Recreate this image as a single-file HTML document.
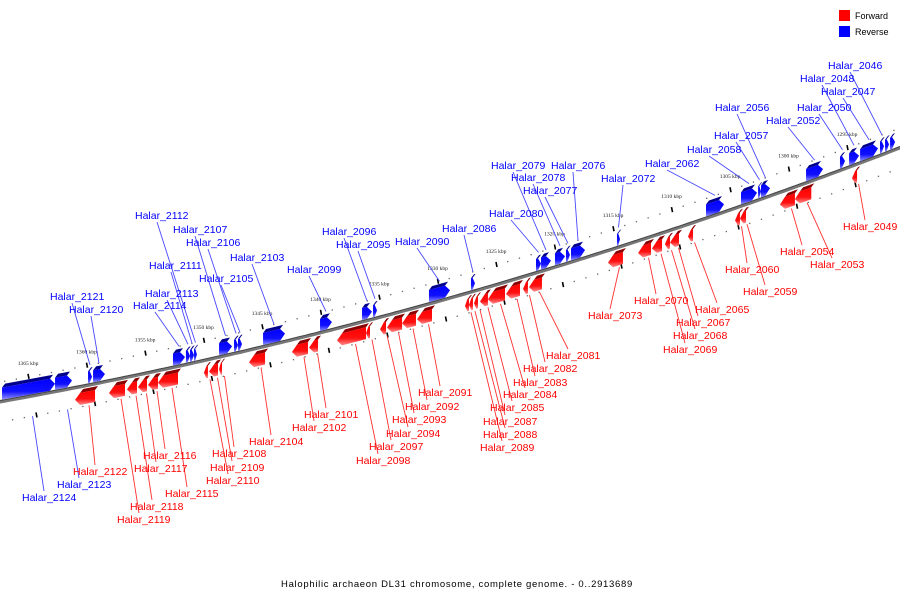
<!DOCTYPE html>
<html><head><meta charset="utf-8"><style>
html,body{margin:0;padding:0;background:#fff;}
svg{display:block;font-family:"Liberation Sans",sans-serif;}
</style></head><body>
<svg id="chart" width="900" height="600" viewBox="0 0 900 600" xmlns="http://www.w3.org/2000/svg">
<defs>
<linearGradient id="gb" x1="0" y1="0" x2="0" y2="1"><stop offset="0" stop-color="#0000ff"/><stop offset="0.6" stop-color="#1010ff"/><stop offset="1" stop-color="#9090ff"/></linearGradient>
<linearGradient id="gr" x1="0" y1="0" x2="0" y2="1"><stop offset="0" stop-color="#ff0000"/><stop offset="0.6" stop-color="#ff1010"/><stop offset="1" stop-color="#ff9090"/></linearGradient>
</defs>
<g id="ticks"></g>
<path id="axis" fill="none" stroke="#777" stroke-width="3"/>
<path id="axis2" fill="none" stroke="#444" stroke-width="1"/>
<g id="leaders"></g>
<g id="genes"></g>
<g id="labels"></g>
<g>
<rect x="839" y="10" width="11" height="11" fill="#ff0000"/>
<text x="855" y="19" font-size="9">Forward</text>
<rect x="839" y="26" width="11" height="11" fill="#0000ff"/>
<text x="855" y="35" font-size="9">Reverse</text>
</g>
<text x="457" y="587" font-size="9.5" letter-spacing="0.7" text-anchor="middle">Halophilic archaeon DL31 chromosome, complete genome. - 0..2913689</text>
</svg>
<script>
// ---- data ----
const revNames = ["Halar_2124","Halar_2123","Halar_2121","Halar_2120","Halar_2114","Halar_2113","Halar_2111","Halar_2112","Halar_2107","Halar_2106","Halar_2105","Halar_2103","Halar_2099","Halar_2096","Halar_2095","Halar_2090","Halar_2086","Halar_2080","Halar_2079","Halar_2078","Halar_2077","Halar_2076","Halar_2072","Halar_2062","Halar_2058","Halar_2057","Halar_2056","Halar_2052","Halar_2050","Halar_2048","Halar_2047","Halar_2046","",""];
const revStart = [1367.22,1362.69,1359.87,1359.44,1352.61,1351.50,1351.15,1350.81,1348.67,1347.39,1347.05,1344.91,1340.04,1336.45,1335.51,1330.73,1327.14,1321.58,1321.15,1319.96,1319.02,1318.59,1314.66,1307.05,1304.06,1302.60,1302.35,1298.50,1295.60,1294.82,1293.88,1292.18,1291.75,1291.32];
const revEnd = [1362.69,1361.24,1359.53,1358.42,1351.58,1351.15,1350.81,1350.56,1347.56,1347.05,1346.71,1343.03,1339.02,1335.60,1335.17,1328.93,1326.80,1321.15,1320.30,1319.10,1318.68,1317.39,1314.40,1305.51,1302.69,1302.35,1301.58,1297.05,1295.17,1293.97,1292.35,1291.84,1291.41,1290.89];
const fwdNames = ["Halar_2122","Halar_2119","Halar_2118","Halar_2117","Halar_2116","Halar_2115","Halar_2110","Halar_2109","Halar_2108","Halar_2104","Halar_2102","Halar_2101","Halar_2098","Halar_2097","Halar_2094","Halar_2093","Halar_2092","Halar_2091","Halar_2089","Halar_2088","Halar_2087","Halar_2085","Halar_2084","Halar_2083","Halar_2082","Halar_2081","Halar_2073","Halar_2070","Halar_2069","Halar_2068","Halar_2067","Halar_2065","Halar_2060","Halar_2059","Halar_2054","Halar_2053","Halar_2049"];
const fwdStart = [1360.98,1358.08,1356.54,1355.60,1354.74,1353.89,1349.96,1349.53,1348.67,1346.11,1342.44,1340.98,1338.59,1336.11,1334.91,1334.32,1333.03,1331.75,1327.65,1327.31,1326.88,1326.37,1325.69,1324.14,1322.69,1322.18,1315.43,1312.86,1311.67,1310.56,1310.13,1308.59,1304.57,1304.15,1300.73,1299.45,1294.57];
const fwdEnd = [1359.27,1356.71,1355.68,1354.83,1353.89,1352.18,1349.62,1348.76,1348.42,1344.74,1341.07,1340.21,1336.11,1335.77,1334.40,1333.03,1331.84,1330.47,1327.31,1326.97,1326.54,1325.69,1324.23,1322.95,1322.27,1321.07,1314.15,1311.75,1310.81,1310.13,1309.36,1308.16,1304.15,1303.63,1299.45,1298.05,1294.14];
const tickKbp = [1365,1360,1355,1350,1345,1340,1335,1330,1325,1320,1315,1310,1305,1300,1295];
// ---- layout (label placement, not data) ----
const labelPos = {
"Halar_2046":[828,69],"Halar_2048":[800,82],"Halar_2047":[821,95],"Halar_2056":[715,111],"Halar_2050":[797,111],"Halar_2052":[766,124],"Halar_2057":[714,139],"Halar_2058":[687,153],"Halar_2062":[645,167],"Halar_2079":[491,169],"Halar_2076":[551,169],"Halar_2078":[511,181],"Halar_2072":[601,182],"Halar_2077":[523,194],"Halar_2080":[489,217],"Halar_2112":[135,219],"Halar_2086":[442,232],"Halar_2107":[173,233],"Halar_2096":[322,235],"Halar_2106":[186,246],"Halar_2095":[336,248],"Halar_2090":[395,245],"Halar_2103":[230,261],"Halar_2111":[149,269],"Halar_2099":[287,273],"Halar_2105":[199,282],"Halar_2113":[145,297],"Halar_2121":[50,300],"Halar_2114":[133,309],"Halar_2120":[69,313],"Halar_2123":[57,488],"Halar_2124":[22,501],
"Halar_2049":[843,230],"Halar_2054":[780,255],"Halar_2053":[810,268],"Halar_2060":[725,273],"Halar_2059":[743,295],"Halar_2070":[634,304],"Halar_2065":[695,313],"Halar_2073":[588,319],"Halar_2067":[676,326],"Halar_2068":[673,339],"Halar_2069":[663,353],"Halar_2081":[546,359],"Halar_2082":[523,372],"Halar_2083":[513,386],"Halar_2091":[418,396],"Halar_2084":[503,398],"Halar_2092":[405,410],"Halar_2085":[490,411],"Halar_2101":[304,418],"Halar_2093":[392,423],"Halar_2087":[483,425],"Halar_2102":[292,431],"Halar_2094":[386,437],"Halar_2088":[483,438],"Halar_2104":[249,445],"Halar_2097":[369,450],"Halar_2089":[480,451],"Halar_2116":[143,459],"Halar_2108":[212,457],"Halar_2098":[356,464],"Halar_2122":[73,475],"Halar_2117":[134,472],"Halar_2109":[210,471],"Halar_2110":[206,484],"Halar_2115":[165,497],"Halar_2118":[130,510],"Halar_2119":[117,523]};
const NS="http://www.w3.org/2000/svg";
function xOf(k){return 28+(1365-k)*11.7;}
function yOf(x){return 402-0.1789*x-0.0001148*x*x;}
function mk(tag,attrs,parent){const e=document.createElementNS(NS,tag);for(const a in attrs)e.setAttribute(a,attrs[a]);parent.appendChild(e);return e;}
let d="";for(let x=-5;x<=905;x+=5)d+=(x===-5?"M":"L")+x+","+yOf(x).toFixed(1);
document.getElementById("axis").setAttribute("d",d);
let d2="";for(let x=-5;x<=905;x+=5)d2+=(x===-5?"M":"L")+x+","+(yOf(x)-1.5).toFixed(1);
document.getElementById("axis2").setAttribute("d",d2);
const tg=document.getElementById("ticks");
for(let k=1368;k>=1289;k--){
  const x=xOf(k);if(x<0||x>900)continue;
  const yu=yOf(x)-20, yl=yOf(x+8)+20;
  if(k%5===0){
    const t=mk("line",{x1:x,y1:yu-3,x2:x+1,y2:yu+2,stroke:"#000","stroke-width":1.6},tg);
    
    
    const t2=mk("line",{x1:x+8,y1:yl-3,x2:x+9,y2:yl+2,stroke:"#000","stroke-width":1.6},tg);
    
    
  }else{
    const c=mk("rect",{x:x-0.6,y:yu-0.6,width:1.3,height:1.3,fill:"#666"},tg);
    
    
    const c2=mk("rect",{x:x+8-0.6,y:yl-0.6,width:1.3,height:1.3,fill:"#666"},tg);
    
    
  }
}
tickKbp.forEach(k=>{
  const x=xOf(k);
  const t=mk("text",{x:x,y:yOf(x)-32,"font-size":5.5,"text-anchor":"middle",fill:"#222","font-family":"Liberation Serif,serif"},tg);
  t.textContent=k+" kbp";
  
  
});
const gg=document.getElementById("genes"),lg=document.getElementById("leaders"),lb=document.getElementById("labels");
function drawGene(name,s,e,fwd){
  let x1=xOf(s),x2=xOf(e);if(x1>x2){const t=x1;x1=x2;x2=t;}
  const w=x2-x1, head=Math.min(5,w*0.6);
  const off=fwd?2:-2, h=12, th=4;
  const yb=x=>yOf(x)+(fwd?off+h+th:off);
  let body;
  if(fwd){
    body=[[x1,yb(x1)-h/2],[x1+head,yb(x1+head)-h],[x2,yb(x2)-h],[x2,yb(x2)],[x1+head,yb(x1+head)]];
  }else{
    body=[[x1,yb(x1)-h],[x2-head,yb(x2-head)-h],[x2,yb(x2)-h/2],[x2-head,yb(x2-head)],[x1,yb(x1)]];
  }
  const top=fwd?[[x1+head,yb(x1+head)-h],[x1+head+3,yb(x1+head)-h-th],[x2+3,yb(x2)-h-th],[x2,yb(x2)-h]]
               :[[x1,yb(x1)-h],[x1+3,yb(x1)-h-th],[x2-head+3,yb(x2-head)-h-th],[x2-head,yb(x2-head)-h]];
  const g=mk("g",{},gg);
  
  
  mk("polygon",{points:top.map(p=>p.join(",")).join(" "),fill:fwd?"#8b0000":"#00008b"},g);
  mk("polygon",{points:body.map(p=>p.join(",")).join(" "),fill:fwd?"url(#gr)":"url(#gb)"},g);
  if(!name||!labelPos[name])return;
  const [lx,ly]=labelPos[name];
  const mx=(x1+x2)/2;
  const below=ly>yOf(mx);
  const ay=below?yOf(mx+4)+20:yOf(mx)-20;
  const ax=below?mx+4:mx;
  const l=mk("line",{x1:ax,y1:ay,x2:lx+22,y2:below?ly-10:ly+3,stroke:fwd?"#ff3030":"#4848ff","stroke-width":0.9},lg);
  
  
  const t=mk("text",{x:lx,y:ly,"font-size":10.5,fill:fwd?"#ff0000":"#0000ff"},lb);
  t.textContent=name;
  
  
}
revNames.forEach((n,i)=>drawGene(n,revStart[i],revEnd[i],false));
fwdNames.forEach((n,i)=>drawGene(n,fwdStart[i],fwdEnd[i],true));
</script>
</body></html>
